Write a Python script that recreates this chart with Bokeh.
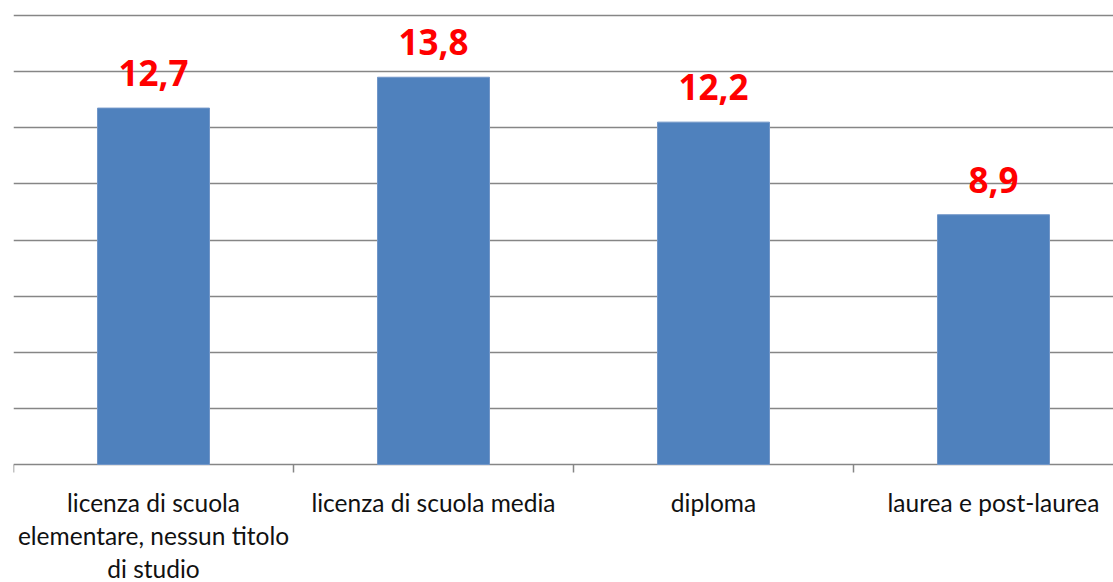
from bokeh.plotting import figure
from bokeh.models import Range1d, FixedTicker, ColumnDataSource
from bokeh.core.properties import value
from bokeh.embed import file_html
from bokeh.resources import INLINE

categories = ["licenza di scuola\nelementare, nessun titolo\ndi studio",
              "licenza di scuola media",
              "diploma",
              "laurea e post-laurea"]
values = [12.7, 13.8, 12.2, 8.9]
value_labels = ["12,7", "13,8", "12,2", "8,9"]
grid_ticks = list(range(0, 17, 2))

W, H = 1113, 582
LEFT = 13
frame_w = W - LEFT
cat_px = 280.0
ppu = 28.0625
top_gap = 15
bottom_gap = H - 464

x_end = frame_w / cat_px
y_end = 16 + top_gap / ppu
y_start = -bottom_gap / ppu

p = figure(width=W, height=H, output_backend="svg", toolbar_location=None,
           x_range=Range1d(0, x_end), y_range=Range1d(y_start, y_end),
           min_border_left=LEFT, min_border_right=0, min_border_top=0, min_border_bottom=0)
p.outline_line_color = None
p.xaxis.visible = False
p.yaxis.visible = False
p.xgrid.visible = False
p.ygrid.ticker = FixedTicker(ticks=grid_ticks)
p.ygrid.grid_line_color = "#868686"
p.ygrid.grid_line_width = 1.5

n = len(categories)
centers = [i + 0.5 for i in range(n)]
src = ColumnDataSource(dict(x=centers, top=values, lab=value_labels,
                            ly=[v + 35 / ppu for v in values]))
p.vbar(x="x", top="top", bottom=0, width=0.4, source=src,
       fill_color="#4F81BD", line_color="#7196c8", line_width=1)

# category boundary ticks
bx = list(range(n + 1))
p.segment(x0=bx, y0=[0] * len(bx), x1=bx, y1=[-8 / ppu] * len(bx),
          line_color="#868686", line_width=1.5)

p.text(x="x", y="ly", text="lab", source=src, text_align="center",
       text_baseline="alphabetic", text_color="#FF0000",
       text_font=value("Open Sans"), text_font_style="bold", text_font_size="35px")

# category labels, line by line
lx, ly, lt = [], [], []
for i, c in enumerate(categories):
    for j, line in enumerate(c.split("\n")):
        lx.append(centers[i])
        ly.append(-(37.5 + 33 * j) / ppu)
        lt.append(line)
p.text(x=lx, y=ly, text=lt, text_align="center", text_baseline="alphabetic",
       text_color="#111111", text_font=value("Lato"), text_font_size="24.5px")

open("out.html", "w").write(file_html(p, INLINE))
